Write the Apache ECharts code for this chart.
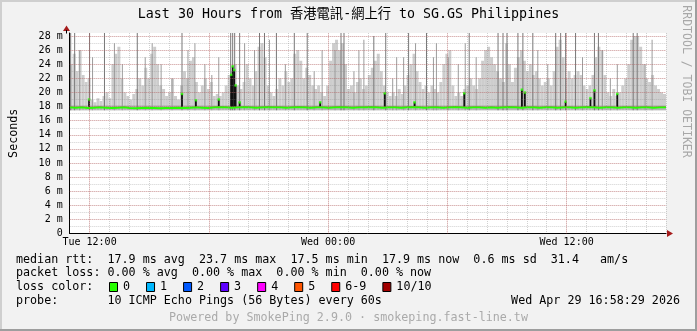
<!DOCTYPE html>
<html><head><meta charset="utf-8">
<script src="https://cdn.jsdelivr.net/npm/echarts@6/dist/echarts.min.js"></script>
<style>html,body{margin:0;padding:0;background:#f2f2f2}#c{width:697px;height:331px}</style>
</head><body><div id="c"></div><script>
// ---------- data ----------
const titleText = 'Last 30 Hours from 香港電訊-網上行 to SG.GS Philippines';
const yAxisName = 'Seconds';
const sideText = 'RRDTOOL / TOBI OETIKER';
const yTickValues = [0,2,4,6,8,10,12,14,16,18,20,22,24,26,28];
const yTickLabels = ['0','2 m','4 m','6 m','8 m','10 m','12 m','14 m','16 m','18 m','20 m','22 m','24 m','26 m','28 m'];
const xTickHours = [0,12,24];               // hours relative to Tue 12:00
const xTickLabels = ['Tue 12:00','Wed 00:00','Wed 12:00'];
const majorXHours = [0,6,12,18,24];
const startHour = -1, endHour = 29, slotHours = 0.15; // 9-minute smoke slots
const yMax = 28.44;
const smokeMin = 17.5;
// upper envelope of the light smoke (ms), one value per 9-minute slot
const smokeTop = [
 24,25.5,23,26,22.5,21.5,22,19,18.6,19.2,
 18.8,19.5,20,19.2,24,25.5,26.5,22,20,19.5,
 19,19.8,20.5,22,21,23.5,22,25.5,26.5,24,
 21,20.5,19.5,20,22,19.5,19,21,23,22,
 24.5,25,21.5,20,21,22,20.5,21.5,19.5,19.8,
 19.5,20,21,22.5,23,24,21,20.5,21.5,24,
 22,21,23,26.5,27,25,21,20,19.5,20.5,
 22,21,23,21.5,22,25.5,26,24.5,22,23.5,
 22.5,21,20.5,21,20,19.5,21,24.5,27,27.5,
 26,27,24,20.5,21,20,21.5,22,20.5,21,
 22.5,23.5,24.5,25.5,23,21,20,19.5,20,19.5,
 20.5,19.8,21,22.5,24,25.5,23,21.5,20.5,21,
 20,21,20.5,20,21.5,24,25.5,26,21,19.5,
 20,19.5,20.5,21,22,21,20.5,22,24.5,26,
 26.5,25,24,23,22,21.5,27,24,21.5,23.5,
 25,26,24.5,23,24,22.5,23,22,21,21.5,
 22,21,23,26.5,27.5,25,22,23,22,22.5,
 23,22.5,21,20.5,21,22.5,25,26.5,26,22.5,
 20,19.5,20.5,19.5,20,21,22,24,27.5,28,
 28,26.5,24,22,21.5,22.5,21,20.5,20,19.8
];
// single-ping spikes (hour, top ms)
const spikeHours = [-0.95,-0.75,-0.5,0.0,0.15,0.75,1.25,1.65,2.4,2.8,3.15,3.6,4.15,4.65,4.95,5.3,5.8,6.15,6.5,7.1,7.2,7.3,7.55,7.8,8.3,8.55,8.8,9.05,9.4,9.85,10.3,10.95,11.3,11.7,12.35,12.65,12.8,13.3,13.55,13.8,14.3,14.9,15.25,15.45,15.8,16.05,16.4,16.95,17.3,17.45,18.05,18.55,18.9,19.1,19.45,20.55,20.8,21.0,21.55,21.8,22.3,22.55,23.05,23.45,23.7,23.95,24.45,24.8,25.4,25.6,25.8,26.2,26.55,27.35,27.55,27.95,28.3];
const spikeTops  = [28.44,28.44,26,28.44,25,28.44,27,24,28.44,25,27,24,22,28.44,26,27,24,22.5,25,28.44,28.44,28.44,28.44,27,26,28.44,28.44,27.5,28.44,24,28.44,28.44,23,26,26,28.44,28.44,23,26,27.5,28,28.44,22,25,25,28.44,27,28.44,25,27,25,24,27,28.44,25,28.44,28.44,28.44,28.44,28.44,28.44,26,24,28.44,28.44,28.44,28.44,25,28.44,28.44,26,22,24,28.44,28.44,24,27.5];
// median jumps (hour, top ms)
const jumpHours = [-0.025,4.65,5.35,6.5,7.125,7.2,7.275,7.35,7.55,11.6,14.85,16.35,18.85,21.75,21.9,23.95,25.2,25.4,26.55];
const jumpTops  = [19.0,19.8,18.9,19.0,22.5,23.7,23.2,21.0,18.6,18.6,19.9,18.6,19.9,20.4,20.0,18.7,19.2,20.3,19.8];
// median rtt (ms), evenly spaced over the 30 hours
const medianVals = [17.9,17.85,17.9,17.8,17.85,17.9,17.85,17.8,17.85,17.9,17.8,17.75,17.8,17.85,17.8,17.75,17.8,17.8,17.85,17.8,17.85,17.9,17.85,17.8,17.9,17.95,17.9,17.85,17.9,17.95,17.9,17.85,17.9,17.95,17.9,17.9,17.85,17.9,17.95,17.9,17.85,17.9,17.9,17.85,17.9,17.95,17.9,17.85,17.9,17.9,17.95,17.9,17.85,17.9,17.9,17.85,17.9,17.95,17.9,17.85,17.9,17.9,17.85,17.9,17.95,17.9,17.85,17.9,17.9,17.85,17.9,17.85,17.9,17.95,17.9,17.85,17.9,17.9,17.85,17.9,17.9,17.85,17.9,17.9,17.85,17.9,17.95,17.9,17.85,17.9,17.9,17.85,17.9,17.9,17.85,17.9,17.9,17.85,17.9,17.9];
const statLines = [
 'median rtt:  17.9 ms avg  23.7 ms max  17.5 ms min  17.9 ms now  0.6 ms sd  31.4   am/s',
 'packet loss: 0.00 % avg  0.00 % max  0.00 % min  0.00 % now'
];
const lossTitle = 'loss color:';
const lossLabels = ['0','1','2','3','4','5','6-9','10/10'];
const lossColors = ['#26ff00','#00b8ff','#0059ff','#5e00ff','#ff00ff','#ff5500','#ff0000','#a10000'];
const probeText = 'probe:       10 ICMP Echo Pings (56 Bytes) every 60s';
const dateText = 'Wed Apr 29 16:58:29 2026';
const footerText = 'Powered by SmokePing 2.9.0 · smokeping.fast-line.tw';

// ---------- chart ----------
const MONO = "'DejaVu Sans Mono', 'Noto Sans CJK TC', monospace";
const GRID_C = 'rgba(140,140,140,0.4)';
const MGRID_C = 'rgba(210,70,70,0.4)';
const chart = echarts.init(document.getElementById('c'), null, {renderer:'canvas'});

const smokeData = smokeTop.map((v,i)=>[startHour + i*slotHours, v]);
const spikeData = spikeHours.map((h,i)=>[h, spikeTops[i]]);
const jumpData = jumpHours.map((h,i)=>[h, jumpTops[i]]);
const medStep = (endHour-startHour)/(medianVals.length-1);
const medianData = medianVals.map((v,i)=>[startHour + i*medStep, v]);

const legendY = [259.5, 273.3, 287, 300.7];
const gfx = [];
// frame
gfx.push({type:'rect', shape:{x:0,y:0,width:697,height:2}, style:{fill:'#cfcfcf'}, silent:true});
gfx.push({type:'rect', shape:{x:0,y:0,width:2,height:331}, style:{fill:'#cfcfcf'}, silent:true});
gfx.push({type:'rect', shape:{x:0,y:329,width:697,height:2}, style:{fill:'#9e9e9e'}, silent:true});
gfx.push({type:'rect', shape:{x:695,y:0,width:2,height:331}, style:{fill:'#9e9e9e'}, silent:true});
// arrows
gfx.push({type:'polygon', shape:{points:[[63,31],[70,31],[66.5,25.5]]}, style:{fill:'#a61c1c'}, z:20});
gfx.push({type:'polygon', shape:{points:[[667,230],[667,237],[673,233.5]]}, style:{fill:'#a61c1c'}, z:20});
gfx.push({type:'line', shape:{x1:66.5,y1:30,x2:66.5,y2:33.5}, style:{stroke:'#000',lineWidth:1}, z:20});
// side text
gfx.push({type:'text', x:685.5, y:81.5, rotation:-Math.PI/2, style:{text:sideText, font:'11.5px '+MONO, fill:'#a8a8a8', align:'center', verticalAlign:'middle'}});
// legend lines
statLines.forEach((t,i)=>gfx.push({type:'text', x:16, y:legendY[i], style:{text:t, font:'11.7px '+MONO, fill:'#000', verticalAlign:'middle'}}));
gfx.push({type:'text', x:16, y:legendY[2], style:{text:lossTitle, font:'11.7px '+MONO, fill:'#000', verticalAlign:'middle'}});
let bx = 109;
lossLabels.forEach((lab,i)=>{
  gfx.push({type:'rect', shape:{x:bx+0.5, y:282.5, width:8, height:9}, style:{fill:lossColors[i], stroke:'#000', lineWidth:1}});
  gfx.push({type:'text', x:bx+14, y:legendY[2], style:{text:lab, font:'11.7px '+MONO, fill:'#000', verticalAlign:'middle'}});
  bx += lab.length*7.04 + 30;
});
gfx.push({type:'text', x:16, y:legendY[3], style:{text:probeText, font:'11.7px '+MONO, fill:'#000', verticalAlign:'middle'}});
gfx.push({type:'text', x:680, y:legendY[3], style:{text:dateText, font:'11.7px '+MONO, fill:'#000', align:'right', verticalAlign:'middle'}});
gfx.push({type:'text', x:348.5, y:318, style:{text:footerText, font:'11.7px '+MONO, fill:'#aaaaaa', align:'center', verticalAlign:'middle'}});

function barItem(hw, lo, colorFn){
  return function(params, api){
    const h = api.value(0), top = api.value(1);
    const a = api.coord([h, lo]), b = api.coord([h, top]);
    return {type:'rect', shape:{x:a[0]-hw, y:b[1], width:hw*2, height:a[1]-b[1]}, style:{fill:colorFn(top)}};
  };
}

const option = {
  animation:false,
  backgroundColor:'#f2f2f2',
  title:{text:titleText, left:'center', top:8, padding:0, textStyle:{fontFamily:MONO, fontSize:13.3, fontWeight:'normal', color:'#000'}},
  grid:{left:66, top:33, width:600, height:200.5, show:true, backgroundColor:'#ffffff', borderWidth:0},
  xAxis:[{
    type:'value', min:startHour, max:endHour, interval:1, z:3,
    axisLine:{show:true, onZero:false, lineStyle:{color:'#000', width:1}},
    axisTick:{show:false},
    axisLabel:{margin:4, fontFamily:MONO, fontSize:10, color:'#000',
      formatter:v=>{const i = xTickHours.indexOf(v); return i>=0 ? xTickLabels[i] : '';}},
    splitLine:{show:true, showMinLine:false, lineStyle:{color:GRID_C, type:[1,1], width:1}}
  }],
  yAxis:[{
    type:'value', min:0, max:yMax, interval:1, z:3,
    name:yAxisName, nameLocation:'middle', nameRotate:90, nameGap:50,
    nameTextStyle:{fontFamily:MONO, fontSize:11.7, color:'#000'},
    axisLine:{show:true, onZero:false, lineStyle:{color:'#000', width:1}},
    axisTick:{show:false},
    axisLabel:{margin:7, fontFamily:MONO, fontSize:10, color:'#000',
      formatter:v=>{const i = yTickValues.indexOf(v); return i>=0 ? yTickLabels[i] : '';}},
    splitLine:{show:true, showMinLine:false, showMaxLine:false, lineStyle:{color:GRID_C, type:[1,1], width:1}}
  },{
    type:'value', min:0, max:yMax, interval:2, z:4, position:'left',
    axisLine:{show:false, onZero:false}, axisTick:{show:false}, axisLabel:{show:false},
    splitLine:{show:true, showMinLine:false, showMaxLine:false, lineStyle:{color:MGRID_C, type:[1,1], width:1}}
  }],
  series:[
    {type:'custom', name:'smoke', data:smokeData, clip:true, z:1, encode:{x:0,y:1},
     renderItem:function(params, api){
       const h = api.value(0), top = api.value(1);
       const a = api.coord([h, smokeMin]), b = api.coord([h + slotHours, top]);
       const m = api.coord([h, 18.2]);
       return {type:'group', children:[
         {type:'rect', shape:{x:a[0], y:b[1], width:b[0]-a[0], height:a[1]-b[1]}, style:{fill:'#cdcdcd'}},
         {type:'rect', shape:{x:a[0], y:m[1], width:b[0]-a[0], height:a[1]-m[1]}, style:{fill:'#b4b4b4'}}
       ]};
     }},
    {type:'custom', name:'spikes', data:spikeData, clip:true, z:1, encode:{x:0,y:1},
     renderItem:barItem(0.5, smokeMin, t=> t>=28 ? '#777777' : '#9c9c9c')},
    {type:'line', name:'median', data:medianData, showSymbol:false, symbol:'none', z:2,
     lineStyle:{color:'#26ff00', width:2}},
    {type:'custom', name:'jumps', data:jumpData, clip:true, z:2, encode:{x:0,y:1},
     renderItem:barItem(0.9, 17.9, ()=>'#111111')},
    {type:'scatter', name:'jumpTops', data:jumpData, symbol:'rect', symbolSize:[2.5,2.5], z:2,
     itemStyle:{color:'#26ff00'}},
    {type:'line', name:'majorGrid', data:[], z:4,
     markLine:{silent:true, symbol:'none', z:4, label:{show:false},
       lineStyle:{color:MGRID_C, type:[1,1], width:1},
       data:majorXHours.map(h=>({xAxis:h}))}}
  ],
  graphic:{elements:gfx}
};
chart.setOption(option);
</script></body></html>
